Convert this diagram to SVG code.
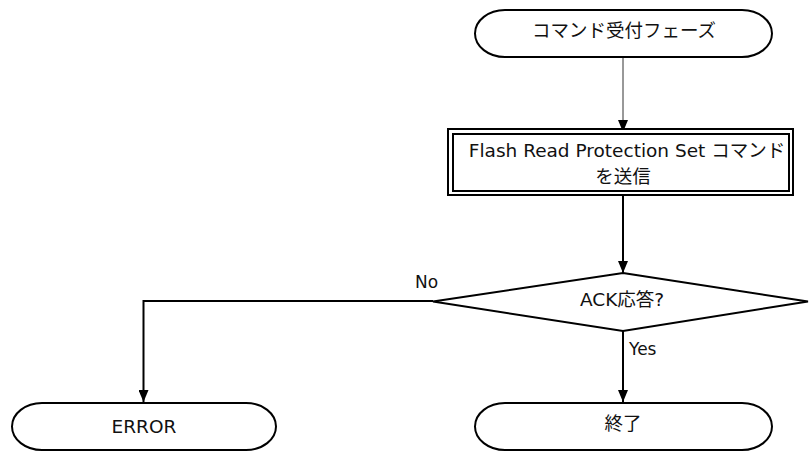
<svg xmlns="http://www.w3.org/2000/svg" width="809" height="452" viewBox="0 0 809 452">
<style>
  .shape { fill: #ffffff; stroke: #000000; stroke-width: 2; }
  .conn { fill: none; stroke: #000000; stroke-width: 2; }
  .thin { fill: none; stroke: #333333; stroke-width: 1; }
  .t { font-family: "DejaVu Sans", "Noto Sans CJK JP", sans-serif; font-size: 18.5px; fill: #111111; text-anchor: middle; }
  .lbl { font-family: "DejaVu Sans", "Noto Sans CJK JP", sans-serif; font-size: 17px; fill: #111111; }
</style>
<defs>
  <marker id="arrow" viewBox="0 0 12 10" refX="12" refY="5" markerWidth="12" markerHeight="10" markerUnits="userSpaceOnUse" orient="auto">
    <path d="M0,0 L12,5 L0,10 Z" fill="#000000"/>
  </marker>
</defs>
<rect width="809" height="452" fill="#ffffff"/>
<g id="connectors">
  <line class="thin" x1="623" y1="57" x2="623" y2="132" marker-end="url(#arrow)"/>
  <line class="conn" x1="623" y1="195" x2="623" y2="273" marker-end="url(#arrow)"/>
  <polyline class="conn" points="433,301 143.5,301 143.5,402" marker-end="url(#arrow)"/>
  <line class="conn" x1="623" y1="331" x2="623" y2="402" marker-end="url(#arrow)"/>
  <text class="lbl" x="415" y="288">No</text>
  <text class="lbl" x="629" y="355">Yes</text>
</g>
<g id="start">
  <rect class="shape" x="475" y="10" width="297" height="47" rx="30" ry="23.5"/>
  <text class="t" x="624" y="37">コマンド受付フェーズ</text>
</g>
<g id="send">
  <rect class="shape" x="448" y="129" width="345" height="66"/>
  <rect class="shape" x="453" y="134" width="336" height="57"/>
  <text class="t" x="627" y="157">Flash Read Protection Set コマンド</text>
  <text class="t" x="623" y="183">を送信</text>
</g>
<g id="decision">
  <polygon class="shape" points="623,273 808,301.5 623,331 433,301.5"/>
  <text class="t" x="622" y="306">ACK応答?</text>
</g>
<g id="error">
  <rect class="shape" x="12" y="403" width="264" height="47" rx="30" ry="23.5"/>
  <text class="t" x="144" y="433">ERROR</text>
</g>
<g id="end">
  <rect class="shape" x="475" y="403" width="297" height="47" rx="30" ry="23.5"/>
  <text class="t" x="623" y="430">終了</text>
</g>
</svg>
